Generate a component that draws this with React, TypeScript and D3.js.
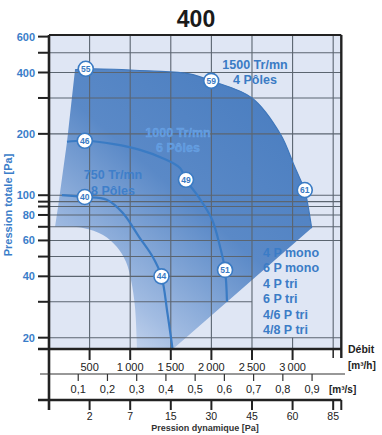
import React from 'react';
import * as d3 from 'd3';

// ---- data ----
const flowTicks = [500, 1000, 1500, 2000, 2500, 3000];
const flowTickLabels = ['500', '1\u202F000', '1\u202F500', '2\u202F000', '2\u202F500', '3\u202F000'];
const gridFlow = [500, 1000, 1500, 2000, 2500, 3000, 3500];
const dynPressureLabels = ['2', '7', '15', '30', '45', '60', '85'];
const m3sTicks = [0.1, 0.2, 0.3, 0.4, 0.5, 0.6, 0.7, 0.8, 0.9];
const m3sLabels = ['0,1', '0,2', '0,3', '0,4', '0,5', '0,6', '0,7', '0,8', '0,9'];
const pressureLabels = [600, 400, 200, 100, 80, 60, 40, 20];
const pressureGrid = [500, 400, 300, 200, 100, 93, 88, 80, 70, 60, 50, 40, 30, 20];
const shortGridPressures = [50, 40, 30];

const curve1500: [number, number][] = [[320, 412], [453, 417], [1238, 407], [1728, 394], [1998, 364], [2500, 300], [2855, 198], [3015, 141], [3113, 115], [3150, 106], [3235, 69]];
const curve1000: [number, number][] = [[221, 183], [441, 185], [800, 178], [1121, 167], [1400, 152], [1614, 136], [1687, 119], [1850, 97], [2008, 76], [2106, 56], [2168, 43], [2192, 30]];
const curve750: [number, number][] = [[159, 100], [441, 98], [711, 95], [907, 82], [1115, 62], [1275, 50], [1385, 40], [1458, 26.5], [1520, 17.8]];
const envelopeBottom: [number, number][] = [[1527, 17.6], [1084, 17.6]];
const envelopeLowerLeft: [number, number][] = [[1084, 17.6], [1059, 28.3], [1010, 38.4], [948, 47.1], [837, 55.7], [665, 63.8], [419, 69.1], [74, 69.9]];
const envelopeLeft: [number, number][] = [[111, 87.6], [222, 183]];

const markerLabels = ['55', '59', '61', '46', '49', '51', '40', '44'];
const markerFlow = [453, 1998, 3150, 441, 1687, 2168, 441, 1385];
const markerPressure = [417, 364, 106, 185, 119, 43, 98, 40];

const legendItems = ['4 P mono', '6 P mono', '4 P tri', '6 P tri', '4/6 P tri', '4/8 P tri'];

const FONT = '"Liberation Sans", Arial, Helvetica, sans-serif';
const BLUE = '#3a7bc4';

export default function App() {
  const x = d3.scaleLinear().domain([0, 3600]).range([49, 341.3]);
  const y = d3.scaleLog().domain([17.6, 611]).range([349, 35]);
  const xs = d3.scaleLinear().domain([0, 1]).range([x(0), x(3600)]);

  const left = x(0), right = x(3600), top = y(611), bottom = y(17.6);

  const smooth = d3.line<[number, number]>().x(d => x(d[0])).y(d => y(d[1])).curve(d3.curveCatmullRom.alpha(0.5));
  const straight = d3.line<[number, number]>().x(d => x(d[0])).y(d => y(d[1]));

  const envelopePath =
    (smooth(curve1500) as string) +
    (straight(envelopeBottom) as string).replace(/^M/, 'L') +
    (smooth(envelopeLowerLeft) as string).replace(/^M/, 'L') +
    (straight(envelopeLeft) as string).replace(/^M/, 'L') + 'Z';

  const gridColor = '#5b6570';

  return (
    <svg width={382} height={435} style={{ display: 'block', position: 'absolute', left: 0, top: 0 }} fontFamily={FONT}>
      <defs>
        <linearGradient id="envGrad" gradientUnits="userSpaceOnUse" x1={270} y1={110} x2={80} y2={330}>
          <stop offset="0" stopColor="#4c7fc1" />
          <stop offset="0.42" stopColor="#5a89c7" />
          <stop offset="0.8" stopColor="#a2bce2" />
          <stop offset="1" stopColor="#d2def2" />
        </linearGradient>
      </defs>
      <rect x={0} y={0} width={382} height={435} fill="#ffffff" />
      <text x={196} y={27} textAnchor="middle" fontSize={23} fontWeight="bold" fill="#1a1a1a">400</text>

      {/* plot background */}
      <rect x={left} y={top} width={right - left} height={bottom - top} fill="#dfe6f4" />
      <path d={envelopePath} fill="url(#envGrad)" />

      {/* grid */}
      {pressureGrid.map(p => (
        <line key={'h' + p} x1={left} x2={shortGridPressures.includes(p) ? x(2500) : right} y1={y(p)} y2={y(p)} stroke={gridColor} strokeWidth={1.1} />
      ))}
      {gridFlow.map(q => q === 3000 ? (
        <g key={'v' + q}>
          <line x1={x(q)} x2={x(q)} y1={top} y2={y(60)} stroke={gridColor} strokeWidth={1.1} />
          <line x1={x(q)} x2={x(q)} y1={y(20)} y2={bottom} stroke={gridColor} strokeWidth={1.1} />
        </g>
      ) : (
        <line key={'v' + q} x1={x(q)} x2={x(q)} y1={top} y2={bottom} stroke={gridColor} strokeWidth={1.1} />
      ))}

      {/* top edge of 1500 curve */}
      <path d={smooth(curve1500) as string} fill="none" stroke="#3f77bb" strokeWidth={1.2} />

      {/* curves */}
      <path d={smooth(curve1000) as string} fill="none" stroke={BLUE} strokeWidth={2.2} />
      <path d={smooth(curve750) as string} fill="none" stroke={BLUE} strokeWidth={2.2} />

      {/* speed labels */}
      <g fontSize={12.5} fontWeight="bold" textAnchor="middle">
        <text x={255} y={69} fill={BLUE}>1500 Tr/mn</text>
        <text x={255} y={84} fill={BLUE}>4 Pôles</text>
        <g fill="#5d9ae0" stroke="#7fb0ea" strokeWidth={0.4} strokeOpacity={0.6}>
          <text x={178} y={137}>1000 Tr/mn</text>
          <text x={178} y={152}>6 Pôles</text>
        </g>
        <g fill="#3f7fca">
          <text x={113} y={179}>750 Tr/mn</text>
          <text x={113} y={195}>8 Pôles</text>
        </g>
      </g>

      {/* markers */}
      {markerLabels.map((m, i) => (
        <g key={'m' + i} transform={`translate(${x(markerFlow[i])},${y(markerPressure[i])})`}>
          <circle r={7.5} fill="#ffffff" stroke={BLUE} strokeWidth={1.6} />
          <text y={3} textAnchor="middle" fontSize={8.5} fontWeight="bold" fill={BLUE}>{m}</text>
        </g>
      ))}

      {/* legend */}
      <g fontSize={12.5} fontWeight="bold" fill="#3b7cc6">
        {legendItems.map((t, i) => (
          <text key={t} x={263} y={257 + i * 15.4}>{t}</text>
        ))}
      </g>

      {/* borders */}
      <line x1={left} x2={right} y1={top} y2={top} stroke="#222" strokeWidth={2} />
      <line x1={right} x2={right} y1={top} y2={358} stroke="#222" strokeWidth={2.4} />
      <line x1={left} x2={left} y1={top} y2={410} stroke="#222" strokeWidth={2.6} />

      {/* y axis ticks and labels */}
      {pressureGrid.concat([600]).map(p => (
        <line key={'yt' + p} x1={38} x2={left} y1={y(p)} y2={y(p)} stroke="#222" strokeWidth={2} />
      ))}
      <g fontSize={11} fontWeight="bold" fill="#3a7dc9" textAnchor="end">
        {pressureLabels.map(p => (
          <text key={'yl' + p} x={35} y={y(p) + 4}>{p}</text>
        ))}
      </g>
      <text transform={`translate(12,205) rotate(-90)`} textAnchor="middle" fontSize={11} fontWeight="bold" fill="#3a7dc9">Pression totale [Pa]</text>

      {/* flow m3/h axis */}
      <line x1={38} x2={right} y1={bottom} y2={bottom} stroke="#222" strokeWidth={2.6} />
      {flowTicks.map(q => (
        <line key={'ft' + q} x1={x(q)} x2={x(q)} y1={bottom} y2={360} stroke="#222" strokeWidth={2} />
      ))}
      <line x1={x(3500)} x2={x(3500)} y1={bottom} y2={358} stroke="#222" strokeWidth={1.5} />
      <g fontSize={11} fill="#222" textAnchor="middle">
        {flowTickLabels.map((t, i) => (
          <text key={'fl' + i} x={x(flowTicks[i])} y={371}>{t}</text>
        ))}
      </g>
      <text x={348} y={353} fontSize={10.5} fontWeight="bold" fill="#222">Débit</text>
      <text x={348} y={369} fontSize={10} fontWeight="bold" fill="#222">[m³/h]</text>

      {/* m3/s axis */}
      <line x1={40} x2={345} y1={374} y2={374} stroke="#333" strokeWidth={1.2} />
      {m3sTicks.map(v => (
        <line key={'st' + v} x1={xs(v)} x2={xs(v)} y1={374} y2={381} stroke="#333" strokeWidth={1.2} />
      ))}
      <g fontSize={11} fill="#222" textAnchor="middle">
        {m3sLabels.map((t, i) => (
          <text key={'sl' + i} x={xs(m3sTicks[i])} y={393}>{t}</text>
        ))}
      </g>
      <text x={329} y={393} fontSize={10} fontWeight="bold" fill="#222">[m³/s]</text>

      {/* dynamic pressure axis */}
      <line x1={38} x2={right} y1={400} y2={400} stroke="#222" strokeWidth={2.6} />
      {gridFlow.map(q => (
        <line key={'dt' + q} x1={x(q)} x2={x(q)} y1={400} y2={410} stroke="#222" strokeWidth={2} />
      ))}
      <line x1={right} x2={right} y1={400} y2={410} stroke="#222" strokeWidth={2} />
      <g fontSize={10.5} fill="#222" textAnchor="middle">
        {dynPressureLabels.map((t, i) => (
          <text key={'dl' + i} x={x(gridFlow[i])} y={420}>{t}</text>
        ))}
      </g>
      <text x={205} y={431} textAnchor="middle" fontSize={9} fontWeight="bold" fill="#333">Pression dynamique [Pa]</text>
    </svg>
  );
}
